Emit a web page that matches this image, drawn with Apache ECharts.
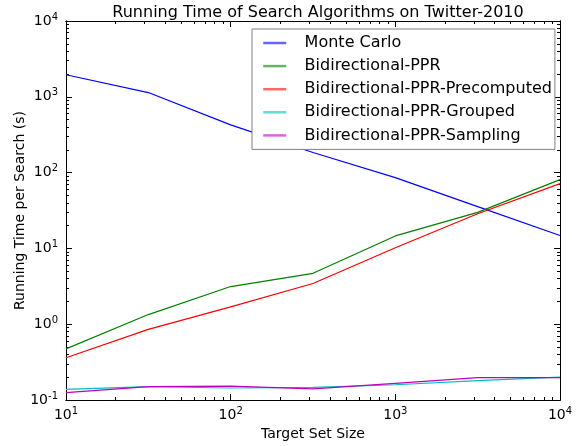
<!DOCTYPE html>
<html>
<head>
<meta charset="utf-8">
<script src="https://cdn.jsdelivr.net/npm/echarts@6/dist/echarts.min.js"></script>
<style>
  html, body { margin: 0; padding: 0; background: #fff; }
  #chart { width: 579px; height: 446px; }
</style>
</head>
<body>
<div id="chart"></div>
<script>
// target set sizes (half decades)
var targetSizes = [10, 31.62, 100, 316.2, 1000, 3162, 10000];

var monteCarlo   = [1955, 1138, 426, 184, 85.7, 35.6, 14.8];
var bidirPPR     = [0.473, 1.34, 3.14, 4.69, 14.6, 29.9, 80.8];
var bidirPrecomp = [0.361, 0.853, 1.69, 3.44, 10.2, 28.7, 71.6];
var bidirGrouped = [0.138, 0.150, 0.144, 0.147, 0.159, 0.180, 0.200];
var bidirSampling = [0.125, 0.150, 0.152, 0.140, 0.166, 0.197, 0.197];

var seriesNames = ['Monte Carlo', 'Bidirectional-PPR', 'Bidirectional-PPR-Precomputed',
                   'Bidirectional-PPR-Grouped', 'Bidirectional-PPR-Sampling'];
var seriesColors = ['#0000ff', '#008000', '#ff0000', '#00bfbf', '#bf00bf'];
var seriesValues = [monteCarlo, bidirPPR, bidirPrecomp, bidirGrouped, bidirSampling];

var xMajor = [10, 100, 1000, 10000];
var yMajor = [0.1, 1, 10, 100, 1000, 10000];

// minor ticks at 2..9 of each decade
function minorTicks(lo, hi) {
    var out = [];
    for (var d = lo; d < hi; d *= 10) {
        for (var k = 2; k < 10; k++) out.push(+(d * k).toPrecision(6));
    }
    return out;
}
var xMinor = minorTicks(10, 10000);
var yMinor = minorTicks(0.1, 10000);

var font = 'DejaVu Sans';

var powLabel = function(v) {
    var e = Math.round(Math.log10(v));
    return '{b|10}{s|' + e + '}';
};
var labelRich = {
    b: { fontFamily: font, fontSize: 14, color: '#000' },
    s: { fontFamily: font, fontSize: 10, color: '#000', padding: [0, 0, 8, 0] }
};

var chart = echarts.init(document.getElementById('chart'));

function xAxisDef(pos, vals, len, showLabel) {
    return {
        type: 'log', logBase: 10, min: 10, max: 10000, position: pos,
        axisLine: { show: true, lineStyle: { color: '#000', width: 1 } },
        axisTick: { show: true, inside: true, length: len, customValues: vals,
                    lineStyle: { color: '#000', width: 1 } },
        axisLabel: showLabel ? { show: true, customValues: xMajor, margin: 6,
                                 formatter: powLabel, rich: labelRich } : { show: false },
        splitLine: { show: false },
        minorTick: { show: false }
    };
}
function yAxisDef(pos, vals, len, showLabel) {
    return {
        type: 'log', logBase: 10, min: 0.1, max: 10000, position: pos,
        axisLine: { show: true, lineStyle: { color: '#000', width: 1 } },
        axisTick: { show: true, inside: true, length: len, customValues: vals,
                    lineStyle: { color: '#000', width: 1 } },
        axisLabel: showLabel ? { show: true, customValues: yMajor, margin: 8,
                                 formatter: powLabel, rich: labelRich } : { show: false },
        splitLine: { show: false },
        minorTick: { show: false }
    };
}

var xAxes = [
    xAxisDef('bottom', xMajor, 6, true),
    xAxisDef('bottom', xMinor, 3, false),
    xAxisDef('top', xMajor, 6, false),
    xAxisDef('top', xMinor, 3, false)
];
xAxes[0].name = 'Target Set Size';
xAxes[0].nameLocation = 'middle';
xAxes[0].nameGap = 27;
xAxes[0].nameMoveOverlap = false;
xAxes[0].nameTextStyle = { fontFamily: font, fontSize: 14, color: '#000' };

var yAxes = [
    yAxisDef('left', yMajor, 6, true),
    yAxisDef('left', yMinor, 3, false),
    yAxisDef('right', yMajor, 6, false),
    yAxisDef('right', yMinor, 3, false)
];
yAxes[0].name = 'Running Time per Search (s)';
yAxes[0].nameLocation = 'middle';
yAxes[0].nameGap = 39;
yAxes[0].nameMoveOverlap = false;
yAxes[0].nameTextStyle = { fontFamily: font, fontSize: 14, color: '#000' };

var series = seriesNames.map(function(name, i) {
    return {
        name: name,
        type: 'line',
        xAxisIndex: 0,
        yAxisIndex: 0,
        symbol: 'none',
        animation: false,
        itemStyle: { color: seriesColors[i] },
        lineStyle: { color: seriesColors[i], width: 1.2 },
        data: targetSizes.map(function(x, j) { return [x, seriesValues[i][j]]; })
    };
});

var option = {
    animation: false,
    backgroundColor: '#fff',
    title: {
        text: 'Running Time of Search Algorithms on Twitter-2010',
        left: 313, top: 0, textAlign: 'center',
        textStyle: { fontFamily: font, fontSize: 16, fontWeight: 'normal', color: '#000' }
    },
    grid: { left: 66, right: 19, top: 21, bottom: 42, containLabel: false },
    legend: {
        show: true,
        orient: 'vertical',
        left: 252, top: 29,
        padding: [6, 3, 6, 10],
        itemWidth: 23, itemHeight: 16, itemGap: 7.1,
        borderColor: '#808080', borderWidth: 1, backgroundColor: '#fff',
        itemStyle: { opacity: 0 },
        lineStyle: { width: 2.5, opacity: 0.6 },
        textStyle: { fontFamily: font, fontSize: 16, color: '#000' },
        formatter: function(name) { return '  \u2009' + name; },
        data: seriesNames
    },
    xAxis: xAxes,
    yAxis: yAxes,
    series: series
};
chart.setOption(option);
</script>
</body>
</html>
